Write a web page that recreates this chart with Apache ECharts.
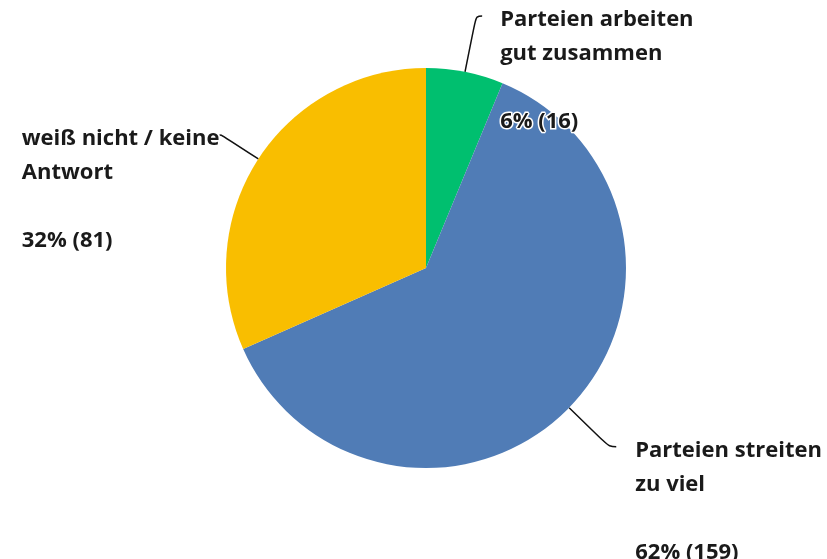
<!DOCTYPE html>
<html>
<head>
<meta charset="utf-8">
<script src="https://cdn.jsdelivr.net/npm/echarts@6/dist/echarts.min.js"></script>
<style>
  html, body { margin: 0; padding: 0; background: #fff; }
  #chart { width: 827px; height: 559px; }
</style>
</head>
<body>
<div id="chart"></div>
<script>
// Umfragewerte (aus dem Bild gelesen)
const categories = ['Parteien arbeiten\ngut zusammen', 'Parteien streiten\nzu viel', 'weiß nicht / keine\nAntwort'];
const counts = [16, 159, 81];
const percents = [6, 62, 32];
const colors = ['#00BF6F', '#507CB6', '#F9BE00'];

// Führungslinien je Segment
const lineLen = [57, 56, 44];
const lineLen2 = [6, 7, 2];
const labelGap = [18, 19, 0];

const LH = 34;
let chart = echarts.init(document.getElementById('chart'));

let data = categories.map((name, i) => ({
  name: name,
  value: counts[i],
  itemStyle: { color: colors[i] },
  label: { distanceToLabelLine: labelGap[i] },
  labelLine: { length: lineLen[i], length2: lineLen2[i] }
}));

let option = {
  animation: false,
  series: [
    {
      type: 'pie',
      center: [426, 268],
      radius: 200,
      startAngle: 90,
      avoidLabelOverlap: false,
      data: data,
      label: {
        show: true,
        position: 'outside',
        lineHeight: LH,
        // erste Zeile sitzt auf der Linie (etwas darunter)
        padding: [LH * 3 + 8, 0, 0, 0],
        formatter: p => {
          let lines = p.name.split('\n').map(s => '{t|' + s + '}');
          return lines.join('\n') + '\n\n{t|' + percents[p.dataIndex] + '% (' + p.value + ')}';
        },
        rich: {
          t: {
            align: 'left',
            fontFamily: 'Open Sans',
            fontWeight: 'bold',
            fontSize: 22,
            lineHeight: LH,
            color: '#1a1a1a',
            textBorderColor: '#fff',
            textBorderWidth: 3
          }
        }
      },
      labelLine: {
        show: true,
        smooth: 0.4,
        lineStyle: { color: '#111', width: 1.5 }
      }
    }
  ]
};
chart.setOption(option);
</script>
</body>
</html>
